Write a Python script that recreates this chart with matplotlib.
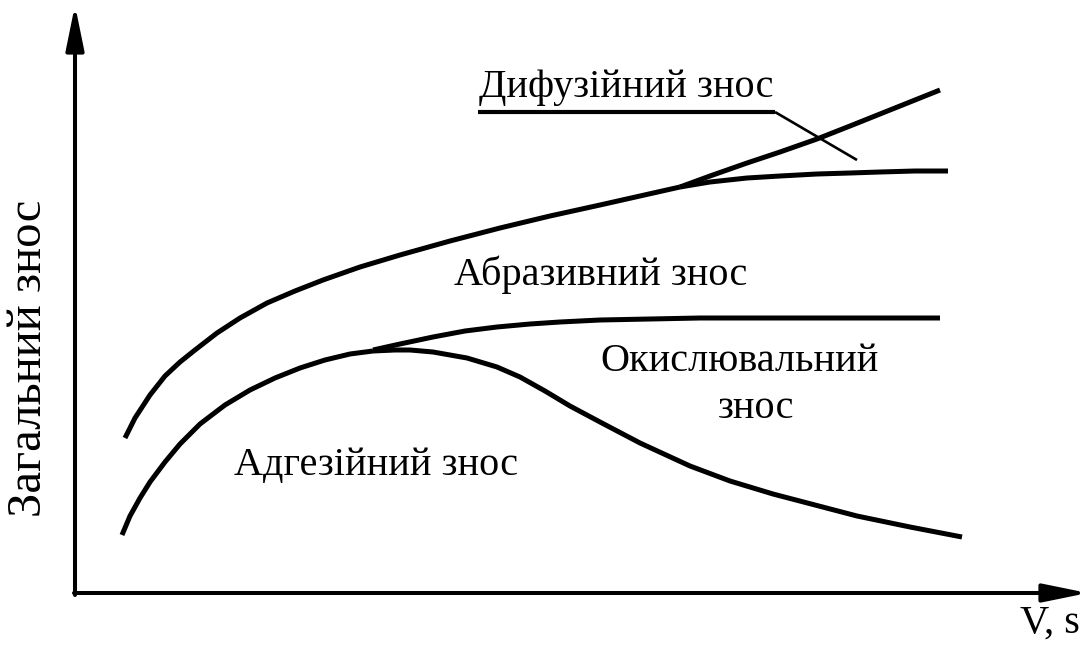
import matplotlib
matplotlib.use("Agg")
import matplotlib.pyplot as plt

plt.rcParams['font.family'] = ['Liberation Serif', 'DejaVu Serif']

# ---- data (schematic units: x = V,s ; y = total wear) ----
upper_x = [50, 60, 75, 90, 105, 120, 142, 165, 192, 220, 248, 285, 325, 375, 425, 475, 525, 565, 605]
upper_y = [155, 175, 198, 217, 231, 243, 260, 275, 290, 302, 313, 326, 338, 352, 365, 377, 388, 397, 406]

diff_x = [605, 635, 672, 705, 742, 775, 805, 835, 865]
diff_y = [406, 417, 430, 441, 454, 467, 479, 491, 503]

abr_x = [605, 635, 672, 705, 742, 775, 805, 840, 873]
abr_y = [406, 411, 415, 417, 419, 420, 421, 422, 422]

mid_x = [47, 55, 65, 75, 90, 105, 125, 150, 175, 200, 225, 250, 275, 298]
mid_y = [58, 77, 95, 111, 131, 149, 169, 188, 203, 215, 225, 233, 239, 242]

ox_x = [298, 325, 358, 390, 422, 455, 485, 525, 575, 625, 725, 865]
ox_y = [243, 249, 256, 262, 266, 269, 271, 273, 274, 275, 275, 275]

adh_x = [298, 320, 335, 358, 392, 422, 445, 470, 495, 525, 565, 615, 655, 698, 740, 782, 835, 887]
adh_y = [242, 243, 243, 241, 235, 226, 216, 202, 187, 171, 150, 127, 112, 99, 88, 77, 66, 56]

leader_x = [403, 700, 782]
leader_y = [481, 481, 433]

labels = {
    'diff': 'Дифузійний знос',
    'abr': 'Абразивний знос',
    'ox1': 'Окислювальний',
    'ox2': 'знос',
    'adh': 'Адгезійний знос',
    'xlab': 'V, s',
    'ylab': 'Загальний знос',
}

fig = plt.figure(figsize=(10.92, 6.46), dpi=100)
ax = fig.add_axes([0, 0, 1, 1])
ax.set_xlim(-75, 1017)
ax.set_ylim(-53, 593)
ax.axis('off')

lw = 3.6
kw = dict(color='black', lw=lw, solid_capstyle='butt', solid_joinstyle='round')
for xs, ys in [(upper_x, upper_y), (diff_x, diff_y), (abr_x, abr_y),
               (mid_x, mid_y), (ox_x, ox_y), (adh_x, adh_y)]:
    ax.plot(xs, ys, **kw)

# leader line
ax.plot(leader_x[:2], leader_y[:2], color='black', lw=3.0, solid_capstyle='butt')
ax.plot(leader_x[1:], leader_y[1:], color='black', lw=1.9, solid_capstyle='butt')

# axes arrows
arrow = dict(arrowstyle='-|>,head_length=2.7,head_width=0.55', color='black',
             lw=2.9, mutation_scale=10, shrinkA=0, shrinkB=0)
ax.annotate('', xy=(0, 588), xytext=(0, -2), arrowprops=arrow)
ax.annotate('', xy=(1013, 0), xytext=(-1, 0), arrowprops=arrow)

fs = 29
ax.text(551, 496, labels['diff'], fontsize=fs, ha='center', va='baseline')
ax.text(526, 308, labels['abr'], fontsize=fs, ha='center', va='baseline')
ax.text(665, 222, labels['ox1'], fontsize=fs, ha='center', va='baseline')
ax.text(681, 175, labels['ox2'], fontsize=fs, ha='center', va='baseline')
ax.text(301, 118, labels['adh'], fontsize=fs, ha='center', va='baseline')
ax.text(975, -40, labels['xlab'], fontsize=fs, ha='center', va='baseline')
ax.text(-46, 235, labels['ylab'], fontsize=35, ha='center', va='center', rotation=90)

fig.savefig('out.png', dpi=100)
